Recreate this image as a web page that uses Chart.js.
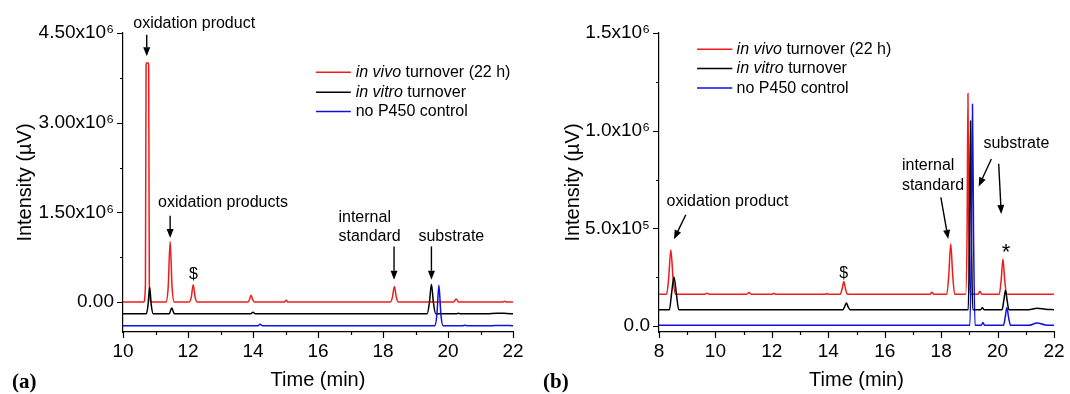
<!DOCTYPE html>
<html>
<head>
<meta charset="utf-8">
<script src="https://cdn.jsdelivr.net/npm/chart.js@4.4.1/dist/chart.umd.min.js"></script>
<style>
    html, body { margin: 0; padding: 0; background: #fff; }
    #wrap { position: relative; width: 1070px; height: 394px; }
    canvas { position: absolute; top: 0; }
</style>
</head>
<body>
<div id="wrap">
    <canvas id="chartA" width="540" height="394" style="left:0"></canvas>
    <canvas id="chartB" width="530" height="394" style="left:540px"></canvas>
</div>
<script>
// ---- panel (a): retention time (min) / intensity (uV)
const vivoTimeA = [10.0, 10.64, 10.69, 10.71, 10.72, 10.78, 10.79, 10.81, 10.86, 11.32, 11.39, 11.45, 11.51, 11.58,
    12.03, 12.10, 12.16, 12.22, 12.29, 13.84, 13.89, 13.94, 13.99, 14.05, 14.96, 15.02, 15.08,
    18.22, 18.29, 18.35, 18.41, 18.48, 20.17, 20.25, 20.33, 21.68, 21.74, 21.8, 22.0];
const vivoA = [0, 0, 0.3e6, 3.95e6, 4.0e6, 4.0e6, 3.95e6, 0.3e6, 0, 0, 0.25e6, 1.015e6, 0.25e6, 0,
    0, 0.08e6, 0.29e6, 0.08e6, 0, 0, 0.04e6, 0.115e6, 0.04e6, 0, 0, 0.03e6, 0,
    0, 0.08e6, 0.262e6, 0.08e6, 0, 0, 0.05e6, 0, 0, 0.015e6, 0, 0];

const vitroTimeA = [10.0, 10.72, 10.77, 10.82, 10.87, 10.93, 11.42, 11.5, 11.58, 13.93, 14.0, 14.07,
    19.36, 19.43, 19.49, 19.55, 19.62, 20.28, 20.32, 20.36, 21.2, 21.5, 21.8, 22.0];
const vitroA = [-0.195e6, -0.195e6, -0.05e6, 0.25e6, -0.05e6, -0.195e6, -0.195e6, -0.10e6, -0.195e6,
    -0.195e6, -0.17e6, -0.195e6, -0.195e6, 0.0, 0.30e6, 0.0, -0.195e6, -0.195e6, -0.185e6, -0.195e6,
    -0.195e6, -0.185e6, -0.19e6, -0.195e6];

const controlTimeA = [10.0, 14.15, 14.22, 14.29, 19.59, 19.66, 19.72, 19.78, 19.85, 20.45, 20.52, 20.6,
    21.3, 21.6, 22.0];
const controlA = [-0.396e6, -0.396e6, -0.37e6, -0.396e6, -0.396e6, -0.2e6, 0.28e6, -0.2e6, -0.396e6,
    -0.396e6, -0.388e6, -0.396e6, -0.396e6, -0.39e6, -0.394e6];

const xTicksA = [10, 11, 12, 13, 14, 15, 16, 17, 18, 19, 20, 21, 22];
const yTicksA = [0, 0.75e6, 1.5e6, 2.25e6, 3.0e6, 3.75e6, 4.5e6];
const yLabelsA = { 0: '0.00', 1500000: '1.50x10\u2076', 3000000: '3.00x10\u2076', 4500000: '4.50x10\u2076' };

// ---- panel (b)
const vivoTimeB = [8.0, 8.27, 8.34, 8.42, 8.50, 8.58, 9.6, 9.7, 9.8, 11.1, 11.19, 11.28, 12.0, 12.07, 12.14,
    13.9, 13.95, 14.0, 14.42, 14.49, 14.55, 14.61, 14.68, 17.6, 17.67, 17.74,
    18.2, 18.27, 18.34, 18.41, 18.48, 18.87, 18.92, 18.95, 18.98, 19.03, 19.31, 19.37, 19.44,
    20.06, 20.13, 20.19, 20.25, 20.32, 22.0];
const vivoB = [0.163e6, 0.163e6, 0.24e6, 0.389e6, 0.24e6, 0.163e6, 0.163e6, 0.168e6, 0.163e6,
    0.163e6, 0.172e6, 0.163e6, 0.163e6, 0.168e6, 0.163e6, 0.163e6, 0.167e6, 0.163e6,
    0.163e6, 0.19e6, 0.228e6, 0.19e6, 0.163e6, 0.163e6, 0.173e6, 0.163e6,
    0.163e6, 0.26e6, 0.42e6, 0.26e6, 0.163e6, 0.163e6, 0.5e6, 1.19e6, 0.5e6, 0.163e6, 0.163e6, 0.178e6, 0.163e6,
    0.163e6, 0.24e6, 0.344e6, 0.24e6, 0.163e6, 0.163e6];

const vitroTimeB = [8.0, 8.37, 8.44, 8.53, 8.62, 8.7, 9.9, 14.52, 14.58, 14.64, 14.7, 14.77,
    18.96, 19.0, 19.04, 19.08, 19.12, 19.4, 19.46, 19.52, 20.16, 20.22, 20.28, 20.34, 20.4,
    21.1, 21.4, 21.7, 22.0];
const vitroB = [0.084e6, 0.084e6, 0.16e6, 0.252e6, 0.16e6, 0.084e6, 0.084e6, 0.084e6, 0.1e6, 0.118e6, 0.1e6, 0.084e6,
    0.084e6, 0.4e6, 1.05e6, 0.4e6, 0.084e6, 0.084e6, 0.094e6, 0.084e6, 0.084e6, 0.13e6, 0.183e6, 0.13e6, 0.084e6,
    0.084e6, 0.092e6, 0.086e6, 0.084e6];

const controlTimeB = [8.0, 19.02, 19.07, 19.11, 19.15, 19.2, 19.42, 19.48, 19.54,
    20.21, 20.27, 20.33, 20.39, 20.46, 21.1, 21.4, 21.7, 22.0];
const controlB = [0.004e6, 0.004e6, 0.45e6, 1.135e6, 0.45e6, 0.004e6, 0.004e6, 0.018e6, 0.004e6,
    0.004e6, 0.045e6, 0.095e6, 0.045e6, 0.004e6, 0.004e6, 0.016e6, 0.006e6, 0.004e6];

const xTicksB = [8, 9, 10, 11, 12, 13, 14, 15, 16, 17, 18, 19, 20, 21, 22];
const yTicksB = [0, 0.25e6, 0.5e6, 0.75e6, 1.0e6, 1.25e6, 1.5e6];
const yLabelsB = { 0: '0.0', 500000: '5.0x10\u2075', 1000000: '1.0x10\u2076', 1500000: '1.5x10\u2076' };

// legend text, italic parts flagged
const seriesNames = [
    [['in vivo', true], [' turnover (22 h)', false]],
    [['in vitro', true], [' turnover', false]],
    [['no P450 control', false]],
];
const seriesColors = ['#ee1c1c', '#000000', '#1010e0'];

// annotations in data units (min, uV)
const notesA = [
    { text: 'oxidation product', t: 12.19, v: 4.656e6, align: 'center' },
    { text: 'oxidation products', t: 11.08, v: 1.656e6, align: 'left' },
    { text: '$', t: 12.17, v: 0.457e6, align: 'center' },
    { text: 'internal', t: 16.63, v: 1.405e6, align: 'left' },
    { text: 'standard', t: 16.63, v: 1.098e6, align: 'left' },
    { text: 'substrate', t: 19.09, v: 1.098e6, align: 'left' },
];
const arrowsA = [
    [10.73, 4.472e6, 10.73, 4.11e6],
    [11.45, 1.444e6, 11.45, 1.07e6],
    [18.34, 0.931e6, 18.34, 0.374e6],
    [19.49, 0.931e6, 19.49, 0.374e6],
];
const notesB = [
    { text: 'oxidation product', t: 8.27, v: 0.637e6, align: 'left' },
    { text: '$', t: 14.55, v: 0.269e6, align: 'center' },
    { text: 'internal', t: 16.61, v: 0.822e6, align: 'left' },
    { text: 'standard', t: 16.61, v: 0.719e6, align: 'left' },
    { text: 'substrate', t: 19.5, v: 0.935e6, align: 'left' },
    { text: '*', t: 20.3, v: 0.375e6, align: 'center', size: 22 },
];
const arrowsB = [
    [8.95, 0.57e6, 8.53, 0.445e6],
    [17.99, 0.659e6, 18.25, 0.446e6],
    [19.78, 0.855e6, 19.33, 0.715e6],
    [20.04, 0.831e6, 20.13, 0.574e6],
];
const legendA = { x1: 15.94, x2: 17.01, textX: 17.16, rows: [3.844e6, 3.511e6, 3.189e6] };
const legendB = { x1: 9.35, x2: 10.6, textX: 10.75, rows: [1.417e6, 1.318e6, 1.218e6] };

const SANS = "'Liberation Sans', Arial, sans-serif";

const toPoints = (times, values) => times.map((t, i) => ({ x: t, y: values[i] }));

const decorPlugin = {
    id: 'decor',
    afterDraw(chart, args, opts) {
        const ctx = chart.ctx;
        const xs = chart.scales.x;
        const ys = chart.scales.y;
        const area = chart.chartArea;
        ctx.save();

        // tick marks, long for labelled ticks, short for the others
        ctx.strokeStyle = '#000';
        ctx.lineWidth = 1.2;
        ctx.beginPath();
        xs.ticks.forEach((tk) => {
            const px = Math.round(xs.getPixelForValue(tk.value)) + 0.5;
            const len = tk.label !== '' ? 6 : 3;
            ctx.moveTo(px, area.bottom);
            ctx.lineTo(px, area.bottom + len);
        });
        ys.ticks.forEach((tk) => {
            const py = Math.round(ys.getPixelForValue(tk.value)) + 0.5;
            const len = tk.label !== '' ? 6 : 3;
            ctx.moveTo(area.left, py);
            ctx.lineTo(area.left - len, py);
        });
        ctx.stroke();

        // text notes
        ctx.fillStyle = '#000';
        ctx.textBaseline = 'middle';
        opts.notes.forEach((n) => {
            ctx.font = `${n.size || 16}px ${SANS}`;
            ctx.textAlign = n.align;
            ctx.fillText(n.text, xs.getPixelForValue(n.t), ys.getPixelForValue(n.v));
        });

        // arrows
        opts.arrows.forEach(([t1, v1, t2, v2]) => {
            const x1 = xs.getPixelForValue(t1);
            const y1 = ys.getPixelForValue(v1);
            const x2 = xs.getPixelForValue(t2);
            const y2 = ys.getPixelForValue(v2);
            const ang = Math.atan2(y2 - y1, x2 - x1);
            const head = 9;
            const half = 3.5;
            const bx = x2 - head * Math.cos(ang);
            const by = y2 - head * Math.sin(ang);
            ctx.strokeStyle = '#000';
            ctx.lineWidth = 1.4;
            ctx.beginPath();
            ctx.moveTo(x1, y1);
            ctx.lineTo(bx, by);
            ctx.stroke();
            ctx.beginPath();
            ctx.moveTo(x2, y2);
            ctx.lineTo(bx + half * Math.sin(ang), by - half * Math.cos(ang));
            ctx.lineTo(bx - half * Math.sin(ang), by + half * Math.cos(ang));
            ctx.closePath();
            ctx.fill();
        });

        // legend
        const lg = opts.legend;
        ctx.textAlign = 'left';
        lg.rows.forEach((v, i) => {
            const py = ys.getPixelForValue(v);
            ctx.strokeStyle = seriesColors[i];
            ctx.lineWidth = 1.5;
            ctx.beginPath();
            ctx.moveTo(xs.getPixelForValue(lg.x1), py);
            ctx.lineTo(xs.getPixelForValue(lg.x2), py);
            ctx.stroke();
            let px = xs.getPixelForValue(lg.textX);
            seriesNames[i].forEach(([txt, italic]) => {
                ctx.font = `${italic ? 'italic ' : ''}16px ${SANS}`;
                ctx.fillText(txt, px, py);
                px += ctx.measureText(txt).width;
            });
        });

        // axis titles
        ctx.fillStyle = '#000';
        ctx.font = `20px ${SANS}`;
        ctx.textAlign = 'center';
        ctx.fillText('Time (min)', (area.left + area.right) / 2, 380);
        ctx.save();
        ctx.translate(opts.yTitleX, (area.top + area.bottom) / 2);
        ctx.rotate(-Math.PI / 2);
        ctx.fillText('Intensity (\u00B5V)', 0, 0);
        ctx.restore();

        // panel letter
        ctx.font = "bold 21px 'Liberation Serif', 'Times New Roman', serif";
        ctx.textAlign = 'left';
        ctx.textBaseline = 'alphabetic';
        ctx.fillText(opts.letter, opts.letterX, 388);
        ctx.restore();
    },
};

const makeChart = (canvasId, cfg) => {
    const lineSet = (times, values, color, order) => ({
        data: toPoints(times, values),
        borderColor: color,
        borderWidth: 1.5,
        pointRadius: 0,
        fill: false,
        tension: 0.4,
        cubicInterpolationMode: 'monotone',
        order,
    });

    return new Chart(document.getElementById(canvasId), {
        type: 'line',
        data: {
            datasets: [
                lineSet(cfg.series[0][0], cfg.series[0][1], seriesColors[0], 3),
                lineSet(cfg.series[1][0], cfg.series[1][1], seriesColors[1], 2),
                lineSet(cfg.series[2][0], cfg.series[2][1], seriesColors[2], 1),
            ],
        },
        options: {
            responsive: false,
            devicePixelRatio: 1,
            animation: false,
            layout: {
                padding: { top: 33, right: cfg.padRight, bottom: 0, left: 0 },
            },
            plugins: {
                legend: { display: false },
                tooltip: { enabled: false },
                decor: {
                    notes: cfg.notes,
                    arrows: cfg.arrows,
                    legend: cfg.legend,
                    yTitleX: cfg.yTitleX,
                    letter: cfg.letter,
                    letterX: cfg.letterX,
                },
            },
            scales: {
                x: {
                    type: 'linear',
                    min: cfg.xTicks[0],
                    max: cfg.xTicks[cfg.xTicks.length - 1],
                    afterBuildTicks: (scale) => {
                        scale.ticks = cfg.xTicks.map((v) => ({ value: v }));
                    },
                    afterFit: (scale) => {
                        scale.height = 62;
                    },
                    ticks: {
                        autoSkip: false,
                        maxRotation: 0,
                        padding: 2,
                        color: '#000',
                        font: { family: SANS, size: 19 },
                        callback: (value) => (value % 2 === 0 ? String(value) : ''),
                    },
                    grid: { display: false, drawTicks: true, tickLength: 6 },
                    border: { display: true, color: '#000', width: 1.2 },
                },
                y: {
                    min: cfg.yMin,
                    max: cfg.yTicks[cfg.yTicks.length - 1],
                    afterBuildTicks: (scale) => {
                        scale.ticks = cfg.yTicks.map((v) => ({ value: v }));
                    },
                    afterFit: (scale) => {
                        scale.width = cfg.yWidth;
                    },
                    ticks: {
                        autoSkip: false,
                        padding: 3,
                        color: '#000',
                        font: { family: SANS, size: 19 },
                        callback: (value) => cfg.yLabels[Math.round(value)] || '',
                    },
                    grid: { display: false, drawTicks: true, tickLength: 6 },
                    border: { display: true, color: '#000', width: 1.2 },
                },
            },
        },
        plugins: [decorPlugin],
    });
};

makeChart('chartA', {
    series: [[vivoTimeA, vivoA], [vitroTimeA, vitroA], [controlTimeA, controlA]],
    xTicks: xTicksA,
    yTicks: yTicksA,
    yLabels: yLabelsA,
    yMin: -0.5e6,
    yWidth: 123,
    padRight: 27,
    notes: notesA,
    arrows: arrowsA,
    legend: legendA,
    yTitleX: 25,
    letter: '(a)',
    letterX: 12,
});

makeChart('chartB', {
    series: [[vivoTimeB, vivoB], [vitroTimeB, vitroB], [controlTimeB, controlB]],
    xTicks: xTicksB,
    yTicks: yTicksB,
    yLabels: yLabelsB,
    yMin: -0.03e6,
    yWidth: 119,
    padRight: 16,
    notes: notesB,
    arrows: arrowsB,
    legend: legendB,
    yTitleX: 33,
    letter: '(b)',
    letterX: 3,
});
</script>
</body>
</html>
